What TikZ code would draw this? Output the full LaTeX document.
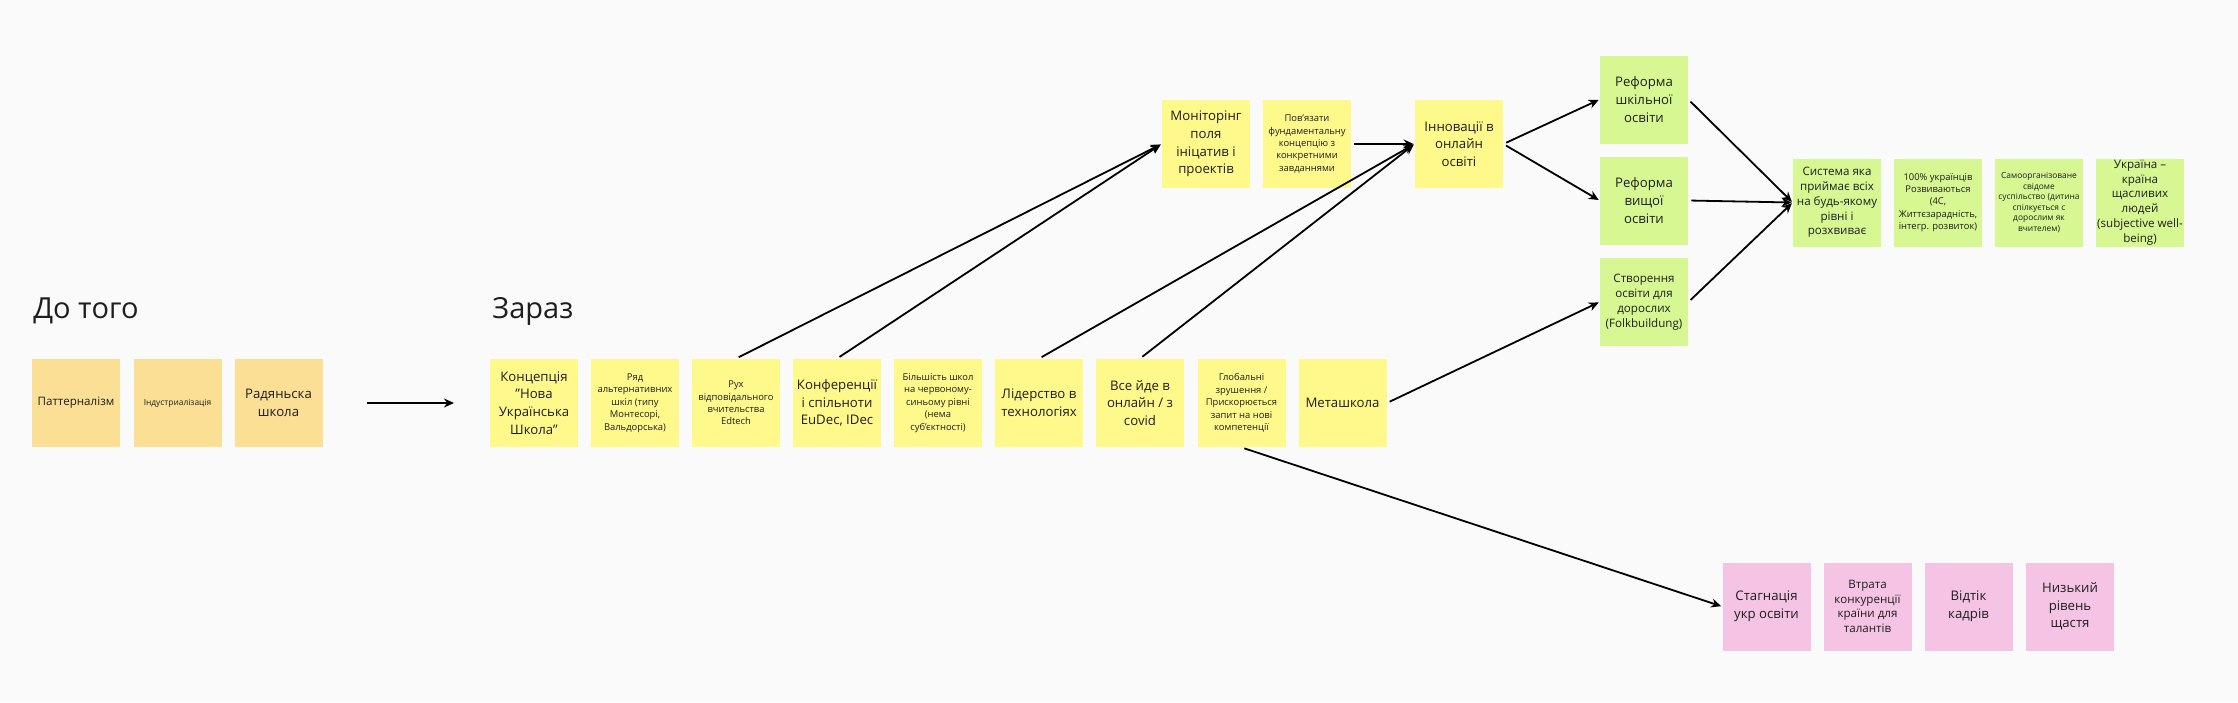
\documentclass[tikz,border=0pt]{standalone}
\usepackage{fontspec}
\setmainfont{Open Sans}
\usetikzlibrary{arrows.meta}

\definecolor{bgcol}{HTML}{FAFAFA}
\definecolor{inkcol}{HTML}{1E1E1E}
\definecolor{orangenote}{HTML}{FBDF95}
\definecolor{yellownote}{HTML}{FFF98C}
\definecolor{greennote}{HTML}{D6F792}
\definecolor{pinknote}{HTML}{F5C4E4}

\begin{document}
\begin{tikzpicture}[x=0.5pt,y=-0.5pt,
    note/.style={rectangle,minimum width=44pt,minimum height=44pt,inner sep=0pt,
        align=center,text=inkcol},
    lg/.style={font=\fontsize{6.6}{8.8}\selectfont},
    md/.style={font=\fontsize{5.8}{7.4}\selectfont},
    sm/.style={font=\fontsize{4.7}{6.2}\selectfont},
    xs/.style={font=\fontsize{4.2}{5.3}\selectfont},
    title/.style={anchor=base west,inner sep=0pt,text=inkcol,font=\fontsize{14.5}{16}\selectfont},
    arr/.style={-{Stealth[length=5pt,width=4.5pt]},line width=0.9pt,shorten <=1.5pt,shorten >=0.5pt}]

    \fill[bgcol] (0,0) rectangle (2238,702);
    \useasboundingbox (0,0) rectangle (2238,702);

    % titles
    \node[title] (before) at (33,318) {До того};
    \node[title] (now) at (492,318) {Зараз};

    % before
    \node[note,fill=orangenote,md] (patern) at (76,403) {Паттерналізм};
    \node[note,fill=orangenote,xs] (industr) at (177.5,403) {Індустриалізація};
    \node[note,fill=orangenote,lg] (radschool) at (278.5,403) {Радяньска\\школа};

    \coordinate (gofrom) at (364,403);
    \coordinate (goto) at (455,403);
    \draw[arr] (gofrom) -- (goto);

    % now
    \node[note,fill=yellownote,lg] (nus) at (534,403) {Концепція\\\char34Нова\\Українська\\Школа\char34};
    \node[note,fill=yellownote,sm] (alts) at (635,403) {Ряд\\альтернативних\\шкіл (типу\\Монтесорі,\\Вальдорська)};
    \node[note,fill=yellownote,sm] (ruh) at (736,403) {Рух\\відповідального\\вчительства\\Edtech};
    \node[note,fill=yellownote,lg] (conf) at (837,403) {Конференції\\і спільноти\\EuDec, IDec};
    \node[note,fill=yellownote,sm] (bilsh) at (938,403) {Більшість школ\\на червоному-\\синьому рівні\\(нема\\суб\char39єктності)};
    \node[note,fill=yellownote,lg] (lider) at (1039,403) {Лідерство в\\технологіях};
    \node[note,fill=yellownote,lg] (online) at (1140,403) {Все йде в\\онлайн / з\\covid};
    \node[note,fill=yellownote,sm] (global) at (1241.5,403) {Глобальні\\зрушення /\\Прискорюється\\запит на нові\\компетенції};
    \node[note,fill=yellownote,lg] (metaschool) at (1342.5,403) {Меташкола};

    % next steps
    \node[note,fill=yellownote,lg] (monitor) at (1206,144) {Моніторінг\\поля\\ініцатив і\\проектів};
    \node[note,fill=yellownote,sm] (link) at (1307,144) {Пов\char39язати\\фундаментальну\\концепцію з\\конкретними\\завданнями};
    \node[note,fill=yellownote,lg] (innov) at (1459,144) {Інновації в\\онлайн\\освіті};

    \node[note,fill=greennote,lg] (refschool) at (1644,99.5) {Реформа\\шкільної\\освіти};
    \node[note,fill=greennote,lg] (refhigh) at (1644,200.5) {Реформа\\вищої\\освіти};
    \node[note,fill=greennote,md] (adult) at (1644,302) {Створення\\освіти для\\дорослих\\(Folkbuildung)};

    % goals
    \node[note,fill=greennote,md] (sys) at (1837,202.5) {Система яка\\приймає всіх\\на будь-якому\\рівні і\\розхвиває};
    \node[note,fill=greennote,sm] (ukr100) at (1938,202.5) {100\% українців\\Розвиваються\\(4C,\\Життєзарадність,\\інтегр. розвиток)};
    \node[note,fill=greennote,xs] (selforg) at (2039,202.5) {Самоорганізоване\\свідоме\\суспільство (дитина\\спілкується с\\дорослим як\\вчителем)};
    \node[note,fill=greennote,md] (happy) at (2140,202.5) {Україна --\\країна\\щасливих\\людей\\(subjective well-\\being)};

    % risks
    \node[note,fill=pinknote,lg] (stag) at (1766.5,606.5) {Стагнація\\укр освіти};
    \node[note,fill=pinknote,md] (loss) at (1867.5,606.5) {Втрата\\конкуренції\\країни для\\талантів};
    \node[note,fill=pinknote,lg] (drain) at (1968.5,606.5) {Відтік\\кадрів};
    \node[note,fill=pinknote,lg] (lowhappy) at (2070,606.5) {Низький\\рівень\\щастя};

    % connectors
    \draw[arr] (ruh.north) -- (monitor.west);
    \draw[arr] (conf.north) -- (monitor.west);
    \draw[arr] (lider.north) -- (innov.west);
    \draw[arr] (online.north) -- (innov.west);
    \draw[arr] (link.east) -- (innov.west);
    \draw[arr] (innov.east) -- (refschool.west);
    \draw[arr] (innov.east) -- (refhigh.west);
    \draw[arr] (metaschool.east) -- (adult.west);
    \draw[arr] (refschool.east) -- (sys.west);
    \draw[arr] (refhigh.east) -- (sys.west);
    \draw[arr] (adult.east) -- (sys.west);
    \draw[arr] (global.south) -- (stag.west);
\end{tikzpicture}
\end{document}
